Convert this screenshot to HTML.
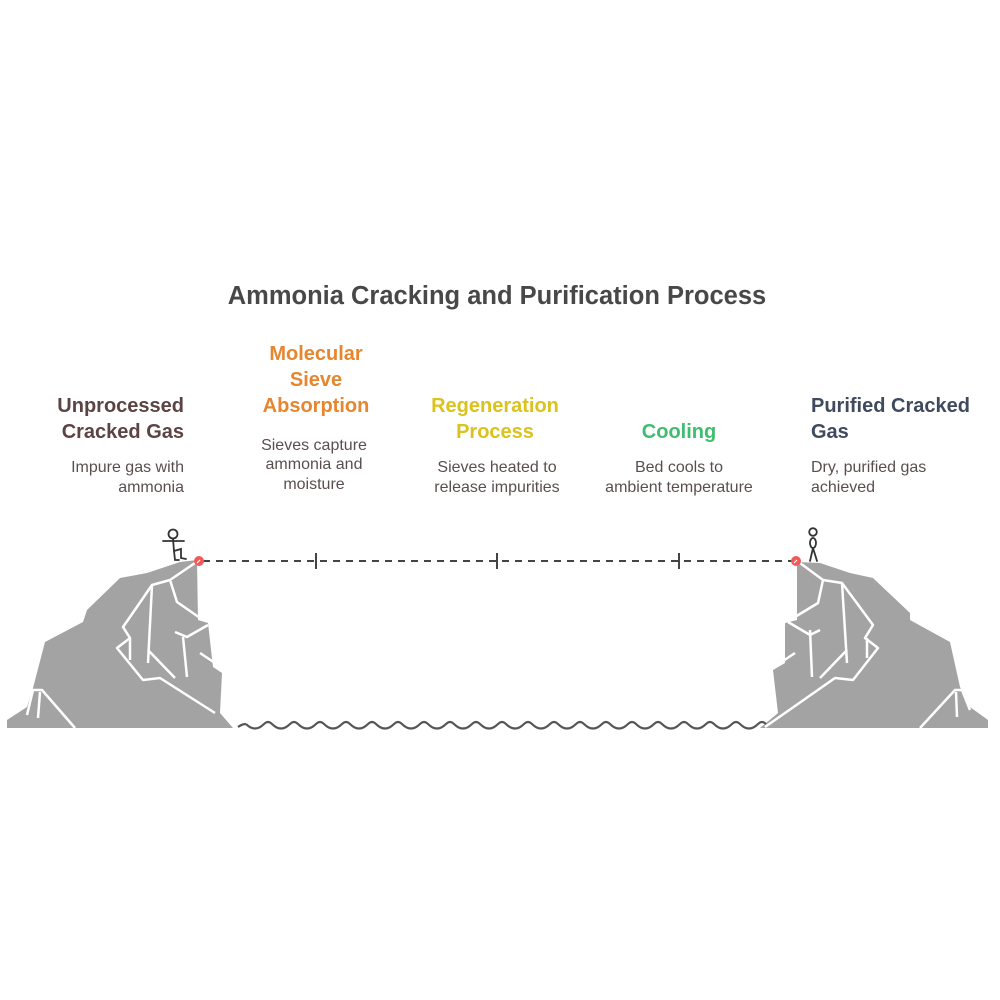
<!DOCTYPE html>
<html><head><meta charset="utf-8"><style>
body{margin:0;background:#fff;}
svg{display:block}
text{font-family:"Liberation Sans",sans-serif;}
.t{font-weight:bold;font-size:20px}
.d{font-size:16px;fill:#5a4f4e}
</style></head><body>
<svg width="1000" height="1000" viewBox="0 0 1000 1000" xmlns="http://www.w3.org/2000/svg">
<rect width="1000" height="1000" fill="#fff"/>
<text x="497" y="304" text-anchor="middle" style="font-weight:bold;font-size:25.5px" fill="#484848">Ammonia Cracking and Purification Process</text>

<g class="t" fill="#5c4444" text-anchor="end">
<text x="184" y="412">Unprocessed</text><text x="184" y="438">Cracked Gas</text></g>
<g class="d" text-anchor="end"><text x="184" y="472">Impure gas with</text><text x="184" y="492">ammonia</text></g>

<g class="t" fill="#e6862f" text-anchor="middle">
<text x="316" y="360">Molecular</text><text x="316" y="386">Sieve</text><text x="316" y="412">Absorption</text></g>
<g class="d" text-anchor="middle"><text x="314" y="450">Sieves capture</text><text x="314" y="469">ammonia and</text><text x="314" y="489">moisture</text></g>

<g class="t" fill="#dcc21c" text-anchor="middle">
<text x="495" y="412">Regeneration</text><text x="495" y="438">Process</text></g>
<g class="d" text-anchor="middle"><text x="497" y="472">Sieves heated to</text><text x="497" y="492">release impurities</text></g>

<g class="t" fill="#3fbe6f" text-anchor="middle"><text x="679" y="438">Cooling</text></g>
<g class="d" text-anchor="middle"><text x="679" y="472">Bed cools to</text><text x="679" y="492">ambient temperature</text></g>

<g class="t" fill="#3f4a5e"><text x="811" y="412">Purified Cracked</text><text x="811" y="438">Gas</text></g>
<g class="d"><text x="811" y="472">Dry, purified gas</text><text x="811" y="492">achieved</text></g>

<line x1="203" y1="561" x2="793" y2="561" stroke="#444" stroke-width="2" stroke-dasharray="7,6"/>
<g stroke="#444" stroke-width="2"><line x1="316" y1="553" x2="316" y2="569"/><line x1="497" y1="553" x2="497" y2="569"/><line x1="679" y1="553" x2="679" y2="569"/></g>

<polygon fill="#a3a3a3" points="7,720 27,707 33,688 45,642 83,622 87,610 120,578 147,573 180,562 197,560 198,620 208,623 213,667 222,673 220,713 233,728 7,728"/>
<g stroke="#fff" stroke-width="2.5" fill="none" stroke-linejoin="round">
<polyline points="195,563 170,580 152,585 130,617 123,627 130,638 117,648 143,680 160,678 215,713"/>
<polyline points="170,580 177,602 203,620"/>
<polyline points="152,585 148,663"/>
<polyline points="148,650 175,678"/>
<polyline points="130,638 130,660"/>
<polyline points="183,637 187,677"/>
<polyline points="175,632 187,637 208,625"/>
<polyline points="200,653 215,663"/>
<polyline points="27,715 33,690 42,690 75,728"/>
<polyline points="40,692 38,718"/>
</g>
<polygon fill="#a3a3a3" points="797,562 820,563 850,573 873,578 910,613 910,620 950,642 960,687 970,707 988,720 988,728 760,728 778,713 773,670 785,663 785,623 797,620"/>
<g stroke="#fff" stroke-width="2.5" fill="none" stroke-linejoin="round">
<polyline points="800,563 823,580 842,583 873,625 865,638 878,648 853,680 835,678 765,727"/>
<polyline points="823,580 818,603 790,620"/>
<polyline points="842,583 847,663"/>
<polyline points="847,650 820,678"/>
<polyline points="867,638 867,658"/>
<polyline points="810,630 812,677"/>
<polyline points="788,622 810,635 820,630"/>
<polyline points="795,653 780,663"/>
<polyline points="920,728 955,690 962,690 970,710"/>
<polyline points="956,692 957,717"/>
</g>

<g stroke="#333" stroke-width="1.8" fill="none" stroke-linecap="round">
<circle cx="173" cy="534" r="4.5"/>
<line x1="173" y1="539" x2="174" y2="551"/>
<line x1="163" y1="541" x2="184" y2="541"/>
<polyline points="174,551 175,560 179,560"/>
<polyline points="174,551 181,549 181,558 186,559"/>
<circle cx="813" cy="532" r="3.8"/>
<ellipse cx="813" cy="543" rx="3" ry="5"/>
<line x1="813" y1="548" x2="810" y2="561"/>
<line x1="813" y1="548" x2="817" y2="561"/>
</g>
<circle cx="199" cy="561" r="5" fill="#f25a5a"/>
<circle cx="796" cy="561" r="5" fill="#f25a5a"/>
<path d="M197,563 l3,-3 M794,563 l3,-3" stroke="#fff" stroke-width="1.2"/>

<path fill="none" stroke="#555" stroke-width="2.2" d="M238,727 q4,-3 8,-3 M246,724 q9,9 18,0 q4,-4 8,0 q9,9 18,0 q4,-4 8,0 q9,9 18,0 q4,-4 8,0 q9,9 18,0 q4,-4 8,0 q9,9 18,0 q4,-4 8,0 q9,9 18,0 q4,-4 8,0 q9,9 18,0 q4,-4 8,0 q9,9 18,0 q4,-4 8,0 q9,9 18,0 q4,-4 8,0 q9,9 18,0 q4,-4 8,0 q9,9 18,0 q4,-4 8,0 q9,9 18,0 q4,-4 8,0 q9,9 18,0 q4,-4 8,0 q9,9 18,0 q4,-4 8,0 q9,9 18,0 q4,-4 8,0 q9,9 18,0 q4,-4 8,0 q9,9 18,0 q4,-4 8,0 q9,9 18,0 q4,-4 8,0 q9,9 18,0 q4,-4 8,0 q9,9 18,0 q4,-4 8,0"/>
</svg>
</body></html>
